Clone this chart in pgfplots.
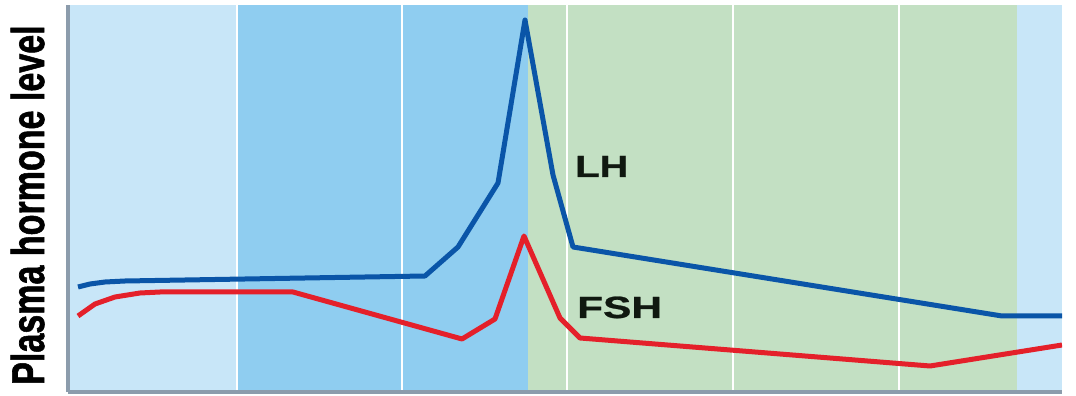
\documentclass[border=0pt]{standalone}
\usepackage{fontspec}
\setmainfont{Liberation Sans}
\newfontfamily\heavy[FakeBold=1.5]{Liberation Sans Bold}
\newfontfamily\semiheavy[FakeBold=0.8]{Liberation Sans Bold}
\usepackage{graphicx}
\usepackage{pgfplots}
\pgfplotsset{compat=1.18}
\definecolor{lb}{RGB}{200,230,248}
\definecolor{mb}{RGB}{143,205,240}
\definecolor{gr}{RGB}{195,224,195}
\definecolor{axgray}{RGB}{140,156,172}
\definecolor{lhblue}{RGB}{10,85,168}
\definecolor{fshred}{RGB}{228,32,42}
\definecolor{txt}{RGB}{16,24,16}
\begin{document}
\begin{tikzpicture}[x=1pt,y=1pt]
\path[use as bounding box] (0,0) rectangle (1076,396);
\begin{axis}[at={(68pt,4pt)}, anchor=south west, scale only axis,
  width=994pt, height=387pt,
  xmin=68, xmax=1062, ymin=0, ymax=387,
  axis x line=bottom, axis y line=left,
  axis line style={-, draw=axgray, line width=3.5pt},
  xtick=\empty, ytick=\empty, axis on top]
\fill[lb] (axis cs:68,0) rectangle (axis cs:237,387);
\fill[mb] (axis cs:237,0) rectangle (axis cs:528,387);
\fill[gr] (axis cs:528,0) rectangle (axis cs:1017,387);
\fill[lb] (axis cs:1017,0) rectangle (axis cs:1062,387);
\foreach \xx in {237,402,567,733,899} {
  \edef\tmp{\noexpand\draw[white, line width=2.5pt] (axis cs:\xx,0) -- (axis cs:\xx,387);}
  \tmp
}
\addplot[lhblue, line width=5pt, line join=round] coordinates {
 (78,105) (90,108) (105,110) (125,111) (425,116) (458,145) (498,209)
 (525,372) (553,217) (573,145) (1002,76) (1062,76)};
\addplot[fshred, line width=5pt, line join=round] coordinates {
 (78,76) (95,88) (115,95) (140,99) (160,100) (293,100) (462,53) (495,73)
 (524,156) (560,74) (580,54) (930,26) (1062,47)};
\node[anchor=base west, inner sep=0pt, text=txt, font=\fontsize{30.7}{32}\selectfont\semiheavy] at (axis cs:575,215) {\scalebox{1.3}[1]{LH}};
\node[anchor=base west, inner sep=0pt, text=txt, font=\fontsize{30.7}{32}\selectfont\semiheavy] at (axis cs:577,74) {\scalebox{1.38}[1]{FSH}};
\end{axis}
\node[rotate=90, anchor=base west, inner sep=0pt, font=\fontsize{46}{48}\selectfont\heavy] at (44,11) {\scalebox{0.74}[1]{Plasma hormone level}};
\end{tikzpicture}
\end{document}
